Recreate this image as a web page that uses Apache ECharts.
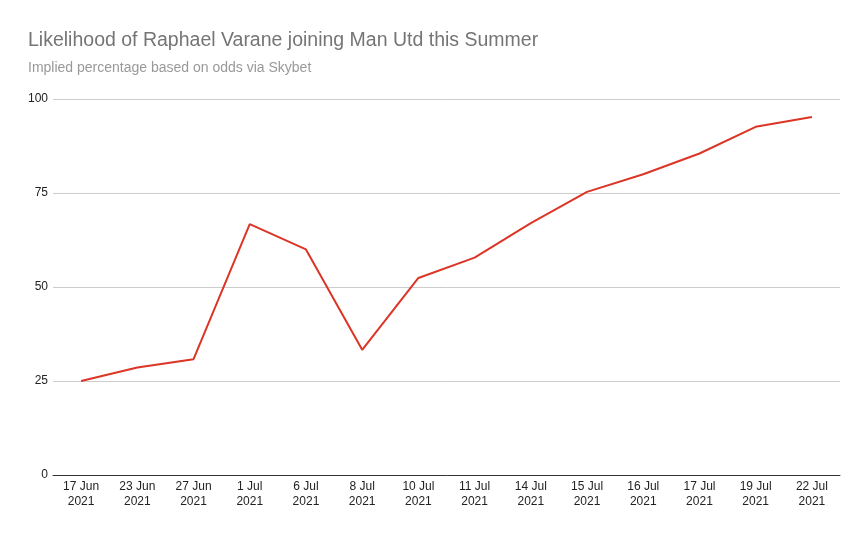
<!DOCTYPE html>
<html><head><meta charset="utf-8">
<script src="https://cdn.jsdelivr.net/npm/echarts@6/dist/echarts.min.js"></script>
<style>html,body{margin:0;padding:0;background:#fff}#c{width:867px;height:536px}</style>
</head><body><div id="c"></div>
<script>
const categories = ["17 Jun\n2021","23 Jun\n2021","27 Jun\n2021","1 Jul\n2021","6 Jul\n2021","8 Jul\n2021","10 Jul\n2021","11 Jul\n2021","14 Jul\n2021","15 Jul\n2021","16 Jul\n2021","17 Jul\n2021","19 Jul\n2021","22 Jul\n2021"];
const likelihood = [25, 28.6, 30.8, 66.7, 60, 33.3, 52.4, 57.8, 67, 75.3, 80, 85.5, 92.6, 95.2];
const yTicks = [0, 25, 50, 75, 100];

const chart = echarts.init(document.getElementById('c'));
chart.setOption({
  animation: false,
  title: [{
    text: 'Likelihood of Raphael Varane joining Man Utd this Summer',
    left: 28, top: 31, padding: 0,
    textStyle: {fontFamily: 'Liberation Sans, Arial', fontSize: 19.5, fontWeight: 'normal', color: '#757575'}
  }, {
    text: 'Implied percentage based on odds via Skybet',
    left: 28, top: 61, padding: 0,
    textStyle: {fontFamily: 'Liberation Sans, Arial', fontSize: 14, fontWeight: 'normal', color: '#999999'}
  }],
  grid: {left: 53, right: 27, top: 99, bottom: 61, containLabel: false},
  xAxis: {
    type: 'category', data: categories, boundaryGap: true,
    axisLine: {lineStyle: {color: '#333', width: 1}},
    axisTick: {show: false},
    axisLabel: {interval: 0, color: '#222', fontFamily: 'Liberation Sans, Arial', fontSize: 12, lineHeight: 15, margin: 4}
  },
  yAxis: {
    type: 'value', min: yTicks[0], max: yTicks[yTicks.length-1], interval: 25,
    axisLine: {show: false}, axisTick: {show: false},
    splitLine: {lineStyle: {color: '#cccccc', width: 1}},
    axisLabel: {color: '#222', fontFamily: 'Liberation Sans, Arial', fontSize: 12, margin: 5}
  },
  series: [{
    type: 'line', data: likelihood, symbol: 'none',
    lineStyle: {color: '#dc3526', width: 2}
  }]
});
</script></body></html>
